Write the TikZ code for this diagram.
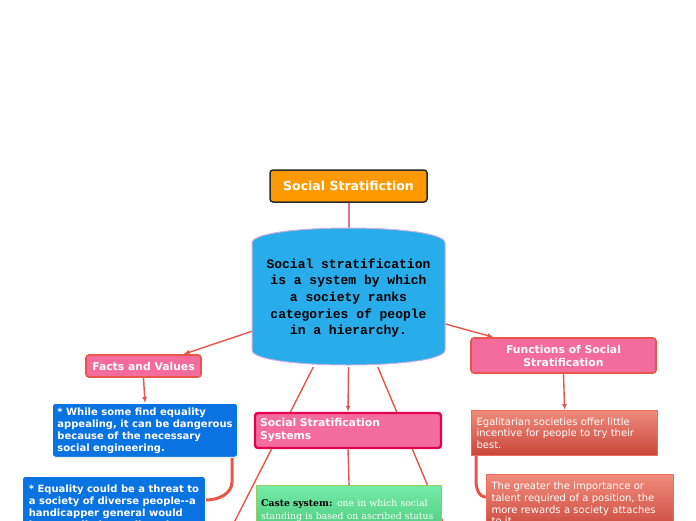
\documentclass[tikz,border=0pt]{standalone}
\usepackage{fontspec}
\usepackage{tikz}
\usepackage{xcolor}
\setmainfont{DejaVu Sans}
\newfontfamily\codefont{Liberation Mono}
\newfontfamily\bookfont{DejaVu Serif}
\usetikzlibrary{shapes.geometric, arrows.meta, positioning, shadows, backgrounds}
\definecolor{Title_Orange}{HTML}{FF9900}
\definecolor{Title_Edge}{HTML}{2B2B2B}
\definecolor{Sky_Blue}{HTML}{29ACEA}
\definecolor{Lilac}{HTML}{C9B2E2}
\definecolor{Stem_Pink}{HTML}{F06B9B}
\definecolor{Topic_Pink}{HTML}{F46C9C}
\definecolor{Link_Red}{HTML}{E8554B}
\definecolor{System_Crimson}{HTML}{E2004F}
\definecolor{Note_Blue}{HTML}{0A73E2}
\definecolor{Caste_Top}{HTML}{74EBA9}
\definecolor{Caste_Bottom}{HTML}{4CC779}
\definecolor{Caste_Edge}{HTML}{9BCB5B}
\definecolor{Fact_Top}{HTML}{EF8B7C}
\definecolor{Fact_Bottom}{HTML}{C8463B}
\definecolor{Fact_Edge}{HTML}{F06B5B}

\begin{document}
\begin{tikzpicture}[x=1pt, y=-1pt,
    topic/.style={draw=Link_Red, line width=1.6pt, fill=Topic_Pink, rounded corners=3pt,
        text=white, font=\bfseries\fontsize{10.8}{13}\selectfont, inner sep=0pt},
    note/.style={fill=Note_Blue, draw=white, line width=0.8pt, rounded corners=3pt,
        text=white, font=\bfseries\fontsize{10}{12}\selectfont, align=left,
        anchor=north west, inner xsep=5pt, inner ysep=4pt,
        drop shadow={opacity=0.3, shadow xshift=0.8pt, shadow yshift=-1pt}},
    fact/.style={top color=Fact_Top, bottom color=Fact_Bottom, draw=Fact_Edge,
        line width=1.2pt, text=white, font=\fontsize{10}{11.7}\selectfont,
        align=left, anchor=north west, inner xsep=5pt, inner ysep=5pt},
    link/.style={Link_Red, line width=1.4pt},
    arrow/.style={link, -{Latex[length=6pt, width=5pt]}},
    branch/.style={Link_Red, line width=3pt}
]
    \useasboundingbox (0,0) rectangle (696,520);
    \clip (0,0) rectangle (696,520);

    % Central topic and its definition
    \node[draw=Title_Edge, line width=1.5pt, fill=Title_Orange, rounded corners=3pt,
        text=white, font=\bfseries\fontsize{12.5}{14}\selectfont,
        minimum width=157pt, minimum height=32pt] (title) at (348.5,186) {Social Stratifiction};

    \path[fill=Sky_Blue, draw=Lilac, line width=1pt]
        (252,243) -- (252,350) .. controls (252,370) and (445,370) .. (445,350)
        -- (445,243) .. controls (445,223) and (252,223) .. (252,243) -- cycle;
    \node[minimum width=193pt, minimum height=138pt, align=center,
        font=\codefont\bfseries\fontsize{13}{16.6}\selectfont] (def) at (348.5,298)
        {Social stratification\\is a system by which\\a society ranks\\categories of people\\in a hierarchy.};

    % Left branch
    \node[topic, minimum width=115pt, minimum height=22pt] (facts) at (143.5,366) {Facts and Values};
    \node[note, minimum width=184pt, minimum height=53pt] (equal) at (52,403)
        {* While some find equality\\appealing, it can be dangerous\\because of the necessary\\social engineering.};
    \node[note, minimum width=183pt, minimum height=62pt] (threat) at (22,476)
        {* Equality could be a threat to\\a society of diverse people{-}{-}a\\handicapper general would\\have to eliminate diversity.};

    % Middle branch
    \node[topic, draw=System_Crimson, line width=2.4pt, minimum width=186pt, minimum height=35pt,
        text width=176pt, align=left] (systems) at (348,430.5) {Social Stratification\\Systems};
    \node[top color=Caste_Top, bottom color=Caste_Bottom, draw=Caste_Edge, line width=1.2pt,
        anchor=north west, minimum width=185pt, minimum height=50pt, text width=176pt,
        align=left, inner xsep=4.5pt, inner ysep=6pt, text=white,
        font=\bookfont\fontsize{9.3}{13}\selectfont] (caste) at (256,485)
        {{\color{black}\bfseries Caste system:} one in which social\\standing is based on ascribed status};

    % Right branch
    \node[topic, minimum width=185pt, minimum height=35pt, align=center] (func) at (563.5,355.5)
        {Functions of Social\\Stratification};
    \node[fact, text width=176pt, minimum height=45pt] (little) at (471,410)
        {Egalitarian societies offer little\\incentive for people to try their\\best.};
    \node[fact, text width=177pt, minimum height=58pt] (reward) at (486,474)
        {The greater the importance or\\talent required of a position, the\\more rewards a society attaches\\to it.};

    \coordinate (lowleft) at (215,560);
    \coordinate (lowright) at (459,560);

    \begin{scope}[on background layer]
        \draw[Stem_Pink, line width=2pt] (title.south) -- (def.north);
        \draw[arrow] (def.199) -- ([xshift=40pt]facts.north);
        \draw[arrow] (facts.south) -- (equal.north);
        \draw[branch] ([xshift=-6pt]equal.south east) -- ++(0,24)
            to[out=-90, in=0] ([yshift=-24pt]threat.north east);
        \draw[arrow] (def.south) -- (systems.north);
        \draw[link] (def.243) -- (lowleft);
        \draw[link] (def.-67) -- (lowright);
        \draw[link] (systems.south) -- (caste.north);
        \draw[arrow] (def.-15) -- ([xshift=-70pt]func.north);
        \draw[arrow] (func.south) -- (little.north);
        \draw[branch] ([xshift=5pt]little.south west) -- ++(0,24)
            to[out=-90, in=180] ([yshift=-23pt]reward.north west);
    \end{scope}
\end{tikzpicture}
\end{document}
